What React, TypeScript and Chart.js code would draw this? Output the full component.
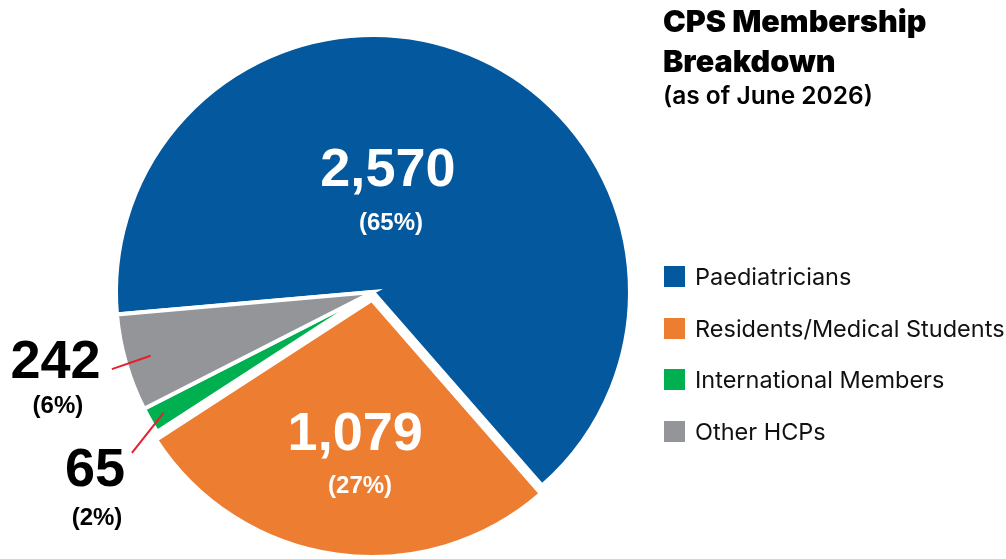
import React, { useEffect, useRef } from "react";
import { Chart, registerables } from "chart.js";

Chart.register(...registerables);

// ---- data ----
const categories = ["Paediatricians", "Residents/Medical Students", "International Members", "Other HCPs"];
const members = [2570, 1079, 65, 242];
const sliceColors = ["#04589d", "#ed7d31", "#00b050", "#939598"];
const sliceOffsets = [0, 32, 0, 0];
const titleLines = ["CPS Membership", "Breakdown"];
const subtitle = "(as of June 2026)";

// label placement, in units of the pie radius, relative to each slice's centre
const labelSpots = [
  { num: [0.058, -0.471], pct: [0.07, -0.268], inside: true },
  { num: [-0.065, 0.525], pct: [-0.046, 0.724], inside: true },
  { num: [-1.082, 0.696], pct: [-1.074, 0.879], lead: [-0.938, 0.626], leadR: 0.94, inside: false },
  { num: [-1.235, 0.278], pct: [-1.226, 0.444], lead: [-1.016, 0.3], leadR: 0.9, inside: false },
];

const fmt = (v: number) => v.toLocaleString("en-US");

const App = () => {
  const ref = useRef<HTMLCanvasElement>(null);

  useEffect(() => {
    document.body.style.margin = "0";
    const total = members.reduce((a, b) => a + b, 0);

    const labelPlugin = {
      id: "sliceLabels",
      afterDatasetsDraw(chart: any) {
        const ctx = chart.ctx as CanvasRenderingContext2D;
        const meta = chart.getDatasetMeta(0);
        meta.data.forEach((arc: any, i: number) => {
          const p = arc.getProps(["x", "y", "startAngle", "endAngle", "outerRadius", "circumference"], true);
          const mid = (p.startAngle + p.endAngle) / 2;
          const o = (sliceOffsets[i] / 4) * (1 + (1 - Math.sin(Math.min(Math.PI, p.circumference))));
          const cx = p.x + Math.cos(mid) * o;
          const cy = p.y + Math.sin(mid) * o;
          const r = p.outerRadius;
          const s: any = labelSpots[i];
          const pct = Math.round((members[i] / total) * 100);
          ctx.save();
          if (s.lead) {
            const ex = cx + Math.cos(mid) * r * s.leadR;
            const ey = cy + Math.sin(mid) * r * s.leadR;
            ctx.strokeStyle = "#e3202b";
            ctx.lineWidth = 2;
            ctx.beginPath();
            ctx.moveTo(cx + s.lead[0] * r, cy + s.lead[1] * r);
            ctx.lineTo(ex, ey);
            ctx.stroke();
          }
          ctx.fillStyle = s.inside ? "#ffffff" : "#000000";
          ctx.textAlign = "center";
          ctx.textBaseline = "middle";
          ctx.font = 'bold 54px "Liberation Sans", Arial, sans-serif';
          ctx.fillText(fmt(members[i]), cx + s.num[0] * r, cy + s.num[1] * r);
          ctx.font = 'bold 24px "Liberation Sans", Arial, sans-serif';
          ctx.fillText(`(${pct}%)`, cx + s.pct[0] * r, cy + s.pct[1] * r);
          ctx.restore();
        });
      },
    };

    const chart = new Chart(ref.current!, {
      type: "pie",
      data: {
        labels: categories,
        datasets: [
          {
            data: members,
            backgroundColor: sliceColors,
            borderColor: "#ffffff",
            borderWidth: 4,
            borderJoinStyle: "miter",
            offset: sliceOffsets,
            hoverOffset: 0,
            clip: false,
          } as any,
        ],
      },
      options: {
        animation: false,
        responsive: false,
        rotation: 265,
        radius: 257,
        layout: { padding: { left: 0, right: 260, top: 25, bottom: 0 } },
        plugins: {
          legend: { display: false },
          tooltip: { enabled: false },
          title: { display: false },
        },
        events: [],
      } as any,
      plugins: [labelPlugin],
    });
    return () => chart.destroy();
  }, []);

  return (
    <div style={{ position: "relative", width: 1006, height: 559, overflow: "hidden", background: "#fff" }}>
      <canvas ref={ref} width={1006} height={559} style={{ position: "absolute", left: 0, top: 0 }} />
      <div
        style={{
          position: "absolute",
          left: 663,
          top: 1,
          fontFamily: "Inter, 'Noto Sans', sans-serif",
          color: "#000",
        }}
      >
        {titleLines.map((t) => (
          <div key={t} style={{ fontSize: 30.5, fontWeight: 900, lineHeight: "40px", whiteSpace: "nowrap" }}>
            {t}
          </div>
        ))}
        <div style={{ fontSize: 24.5, fontWeight: 600, lineHeight: "28px", whiteSpace: "nowrap" }}>{subtitle}</div>
      </div>
      <div style={{ position: "absolute", left: 664, top: 266, fontFamily: "Inter, 'Noto Sans', sans-serif" }}>
        {categories.map((c, i) => (
          <div key={c} style={{ display: "flex", alignItems: "center", height: 21, marginBottom: 30.5 }}>
            <div style={{ width: 21, height: 21, background: sliceColors[i], flex: "none" }} />
            <div style={{ marginLeft: 10, fontSize: 23.5, lineHeight: "21px", color: "#111", whiteSpace: "nowrap" }}>
              {c}
            </div>
          </div>
        ))}
      </div>
    </div>
  );
};

export default App;
